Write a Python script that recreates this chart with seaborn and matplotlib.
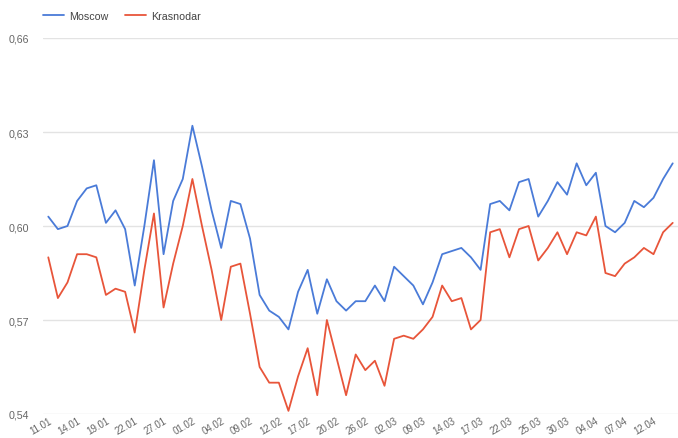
import matplotlib
matplotlib.use('Agg')
import matplotlib.pyplot as plt
import numpy as np
import pandas as pd
import seaborn as sns

moscow = [0.603, 0.599, 0.600, 0.608, 0.612, 0.613, 0.601, 0.605, 0.599, 0.581,
          0.600, 0.621, 0.591, 0.608, 0.615, 0.632, 0.619, 0.605, 0.593, 0.608,
          0.607, 0.596, 0.578, 0.573, 0.571, 0.567, 0.579, 0.586, 0.572, 0.583,
          0.576, 0.573, 0.576, 0.576, 0.581, 0.576, 0.587, 0.584, 0.581, 0.575,
          0.582, 0.591, 0.592, 0.593, 0.590, 0.586, 0.607, 0.608, 0.605, 0.614,
          0.615, 0.603, 0.608, 0.614, 0.610, 0.620, 0.613, 0.617, 0.600, 0.598,
          0.601, 0.608, 0.606, 0.609, 0.615, 0.620]
krasnodar = [0.590, 0.577, 0.582, 0.591, 0.591, 0.590, 0.578, 0.580, 0.579, 0.566,
             0.586, 0.604, 0.574, 0.588, 0.600, 0.615, 0.600, 0.586, 0.570, 0.587,
             0.588, 0.572, 0.555, 0.550, 0.550, 0.541, 0.552, 0.561, 0.546, 0.570,
             0.558, 0.546, 0.559, 0.554, 0.557, 0.549, 0.564, 0.565, 0.564, 0.567,
             0.571, 0.581, 0.576, 0.577, 0.567, 0.570, 0.598, 0.599, 0.590, 0.599,
             0.600, 0.589, 0.593, 0.598, 0.591, 0.598, 0.597, 0.603, 0.585, 0.584,
             0.588, 0.590, 0.593, 0.591, 0.598, 0.601]
tick_labels = ['11.01', '14.01', '19.01', '22.01', '27.01', '01.02', '04.02', '09.02',
               '12.02', '17.02', '20.02', '26.02', '02.03', '09.03', '14.03', '17.03',
               '22.03', '25.03', '30.03', '04.04', '07.04', '12.04']
y_ticks = [0.54, 0.57, 0.60, 0.63, 0.66]

n = len(moscow)
df = pd.DataFrame({
    'idx': list(range(n)) * 2,
    'value': moscow + krasnodar,
    'city': ['Moscow'] * n + ['Krasnodar'] * n,
})

sns.set_style('white')
plt.rcParams['font.family'] = ['Liberation Sans', 'DejaVu Sans']

fig = plt.figure(figsize=(6.78, 4.39), dpi=100)
ax = fig.add_axes([43 / 678, 24 / 439, 635 / 678, 376 / 439])

sns.lineplot(data=df, x='idx', y='value', hue='city',
             palette={'Moscow': '#4a7bd8', 'Krasnodar': '#e8553a'},
             linewidth=1.3, ax=ax)

ax.set_xlim(-0.55, n - 1 + 0.55)
ax.set_ylim(0.54, 0.66)
ax.set_yticks(y_ticks)
ax.set_yticklabels([f'{v:.2f}'.replace('.', ',') for v in y_ticks],
                   color='#666666', fontsize=7.7)
ax.set_xticks(range(0, n, 3))
ax.set_xticklabels(tick_labels, rotation=30, ha='right', rotation_mode='anchor',
                   color='#666666', fontsize=7)
ax.tick_params(axis='both', length=0)
ax.tick_params(axis='x', pad=1)
ax.tick_params(axis='y', pad=10)
ax.set_xlabel('')
ax.set_ylabel('')
ax.grid(axis='y', color='#e3e3e3', linewidth=1)
for s in ax.spines.values():
    s.set_visible(False)

ax.legend(loc='lower left', bbox_to_anchor=(0, 1.045), ncol=2, frameon=False,
          fontsize=7.7, handlelength=2.0, handletextpad=0.4, columnspacing=1.6,
          borderaxespad=0, borderpad=0, labelcolor='#444444')

fig.savefig('out.png', dpi=100)
